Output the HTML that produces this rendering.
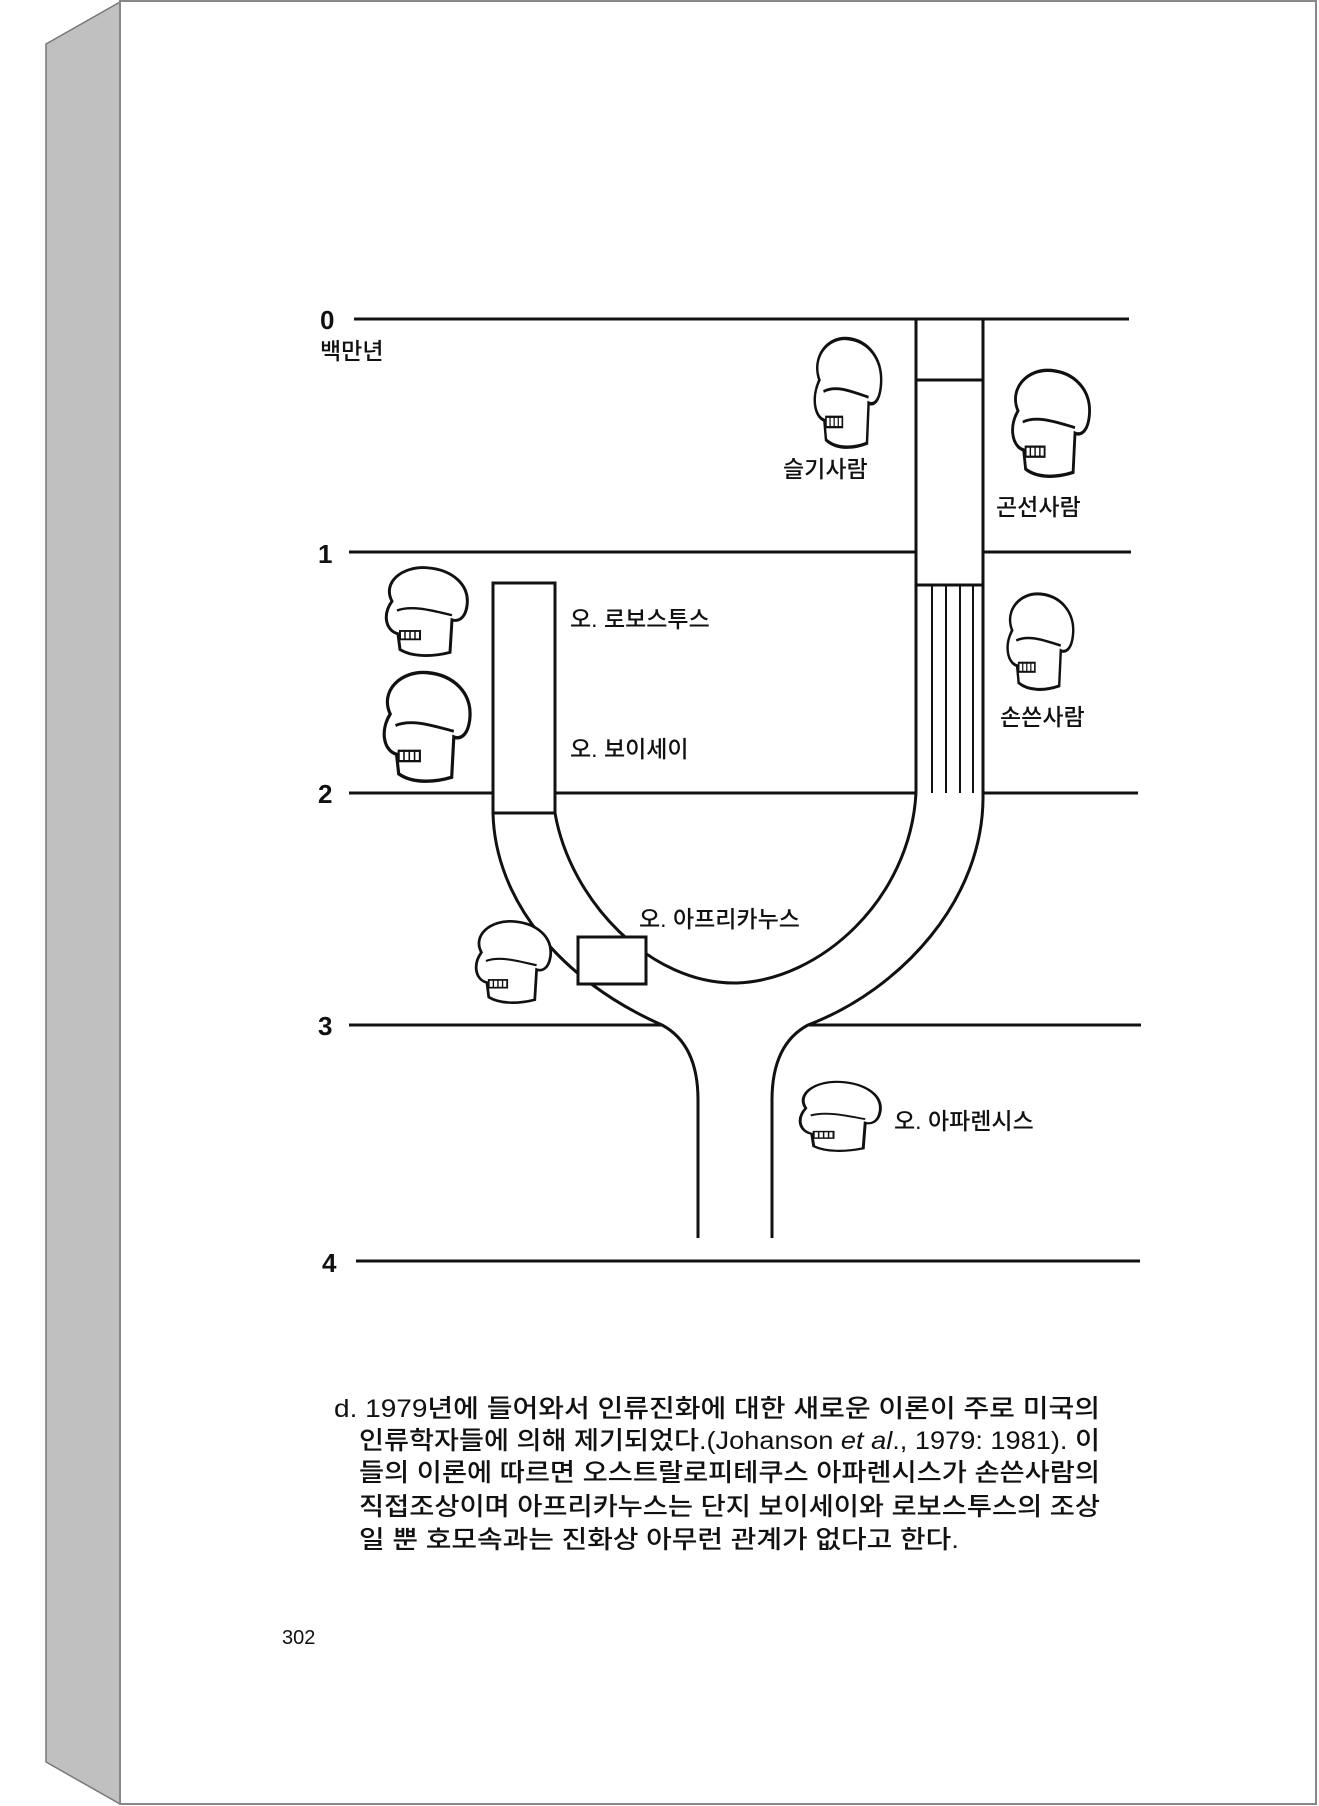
<!DOCTYPE html>
<html><head><meta charset="utf-8"><style>
html,body{margin:0;padding:0;background:#fff;}
svg{display:block}
text{font-family:"Liberation Sans","Noto Sans CJK KR","NanumGothic",sans-serif;fill:#111}
</style></head><body>
<svg width="1319" height="1806" viewBox="0 0 1319 1806" xmlns="http://www.w3.org/2000/svg">
<defs>
<g id="sk">
 <path d="M20,40 C10,20 30,2 55,4 C80,6 98,22 95,45 C93,60 85,62 80,60 L78,95 C60,100 40,100 28,92 L26,75 C14,72 10,55 20,40 Z" fill="#fff" stroke="#111" stroke-width="3"/>
 <path d="M25,50 C40,44 60,50 80,55" fill="none" stroke="#111" stroke-width="2.5"/>
 <rect x="28" y="72" width="20" height="9" fill="#fff" stroke="#111" stroke-width="2"/>
 <path d="M33,72v9M38,72v9M43,72v9" stroke="#111" stroke-width="1.5"/>
</g>
</defs>
<rect width="1319" height="1806" fill="#fff"/>
<polygon points="46,44 120,2 120,1804 46,1762" fill="#c0c0c0" stroke="#777" stroke-width="1.5"/>
<rect x="120" y="1" width="1196" height="1803" fill="none" stroke="#888" stroke-width="2"/>

<g stroke="#111" stroke-width="3" fill="none">
 <line x1="354" y1="319" x2="1129" y2="319"/>
 <line x1="349" y1="552" x2="916" y2="552"/><line x1="983" y1="552" x2="1131" y2="552"/>
 <line x1="349" y1="793" x2="493" y2="793"/><line x1="555" y1="793" x2="916" y2="793"/><line x1="983" y1="793" x2="1138" y2="793"/>
 <line x1="349" y1="1025" x2="662" y2="1025"/><line x1="808" y1="1025" x2="1141" y2="1025"/>
 <line x1="356" y1="1261" x2="1140" y2="1261"/>
 <line x1="916" y1="319" x2="916" y2="793"/><line x1="983" y1="319" x2="983" y2="793"/>
 <line x1="916" y1="380" x2="983" y2="380"/>
 <line x1="916" y1="585" x2="983" y2="585"/>
 <g stroke-width="2"><line x1="932" y1="585" x2="932" y2="793"/><line x1="946" y1="585" x2="946" y2="793"/><line x1="960" y1="585" x2="960" y2="793"/><line x1="973" y1="585" x2="973" y2="793"/></g>
 <polyline points="493,813 493,583 555,583 555,813"/>
 <line x1="493" y1="813" x2="555" y2="813"/>
 <path d="M493,813 C495,900 560,980 662,1025 C690,1040 698,1070 698,1100 L698,1238"/>
 <path d="M983,793 C985,900 900,990 808,1025 C780,1040 772,1070 772,1100 L772,1238"/>
 <path d="M555,813 C570,900 650,985 737,983 C820,980 910,900 916,793"/>
 <rect x="578" y="937" width="68" height="47" fill="#fff"/>
</g>

<g font-weight="bold" font-size="26">
 <text x="320" y="329">0</text><text x="318" y="563">1</text><text x="318" y="803">2</text><text x="318" y="1035">3</text><text x="322" y="1272">4</text>
</g>
<g font-size="23" font-weight="500">
 <text x="320" y="359">백만년</text>
 <text x="783" y="477">슬기사람</text>
 <text x="996" y="515">곤선사람</text>
 <text x="570" y="627">오. 로보스투스</text>
 <text x="570" y="757">오. 보이세이</text>
 <text x="1000" y="725">손쓴사람</text>
 <text x="639" y="927">오. 아프리카누스</text>
 <text x="894" y="1129">오. 아파렌시스</text>
</g>

<use href="#sk" transform="translate(803,334) scale(0.82,1.15)"/>
<use href="#sk" transform="translate(999,366) scale(0.95,1.12)"/>
<use href="#sk" transform="translate(372,564) scale(1.0,0.93)"/>
<use href="#sk" transform="translate(369,668) scale(1.06,1.15)"/>
<use href="#sk" transform="translate(996,590) scale(0.81,1.01)"/>
<use href="#sk" transform="translate(463,918) scale(0.92,0.86)"/>
<use href="#sk" transform="translate(786,1079) scale(0.99,0.73)"/>

<g font-size="25" font-weight="500">
 <text x="334" y="1417" textLength="766" lengthAdjust="spacingAndGlyphs">d. 1979년에 들어와서 인류진화에 대한 새로운 이론이 주로 미국의</text>
 <text x="359" y="1449" textLength="741" lengthAdjust="spacingAndGlyphs">인류학자들에 의해 제기되었다.(Johanson <tspan font-style="italic">et al</tspan>., 1979: 1981). 이</text>
 <text x="359" y="1481" textLength="741" lengthAdjust="spacingAndGlyphs">들의 이론에 따르면 오스트랄로피테쿠스 아파렌시스가 손쓴사람의</text>
 <text x="359" y="1515" textLength="741" lengthAdjust="spacingAndGlyphs">직접조상이며 아프리카누스는 단지 보이세이와 로보스투스의 조상</text>
 <text x="359" y="1548" textLength="600" lengthAdjust="spacingAndGlyphs">일 뿐 호모속과는 진화상 아무런 관계가 없다고 한다.</text>
 <text x="282" y="1644" font-size="20">302</text>
</g>
</svg>
</body></html>
